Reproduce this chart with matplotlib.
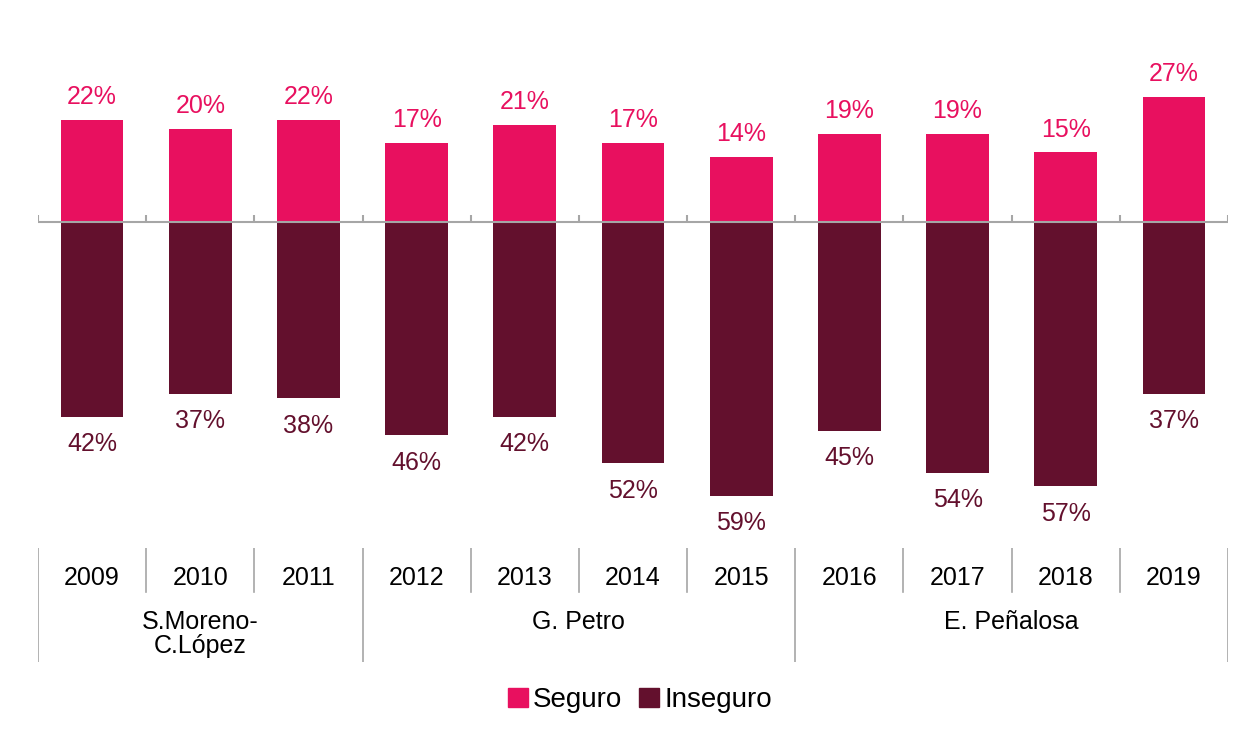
import matplotlib
matplotlib.use('Agg')
import matplotlib.pyplot as plt
from matplotlib.patches import Patch

plt.rcParams['font.family'] = ['Liberation Sans', 'DejaVu Sans']

years = ['2009', '2010', '2011', '2012', '2013', '2014', '2015',
         '2016', '2017', '2018', '2019']
seguro = [22, 20, 22, 17, 21, 17, 14, 19, 19, 15, 27]
inseguro = [42, 37, 38, 46, 42, 52, 59, 45, 54, 57, 37]
groups = ['S.Moreno-\nC.López', 'G. Petro', 'E. Peñalosa']
group_spans = [(0, 2), (3, 6), (7, 10)]

c_seg = '#E8105F'
c_ins = '#63102D'
c_line = '#A6A6A6'

W, H = 1253, 734
fig = plt.figure(figsize=(W / 100, H / 100), dpi=100)

def px_axes(x0, y0, x1, y1):
    # rectangulo en pixeles (origen arriba-izquierda)
    return fig.add_axes([x0 / W, 1 - y1 / H, (x1 - x0) / W, (y1 - y0) / H])

# --- barras ---
ax = px_axes(38, 40, 1228, 540)
pxp = 4.64  # pixeles por punto porcentual
ax.set_xlim(-0.5, len(years) - 0.5)
ax.set_ylim(-(540 - 222) / pxp, (222 - 40) / pxp)
x = list(range(len(years)))
ax.bar(x, seguro, width=0.58, color=c_seg)
ax.bar(x, [-v for v in inseguro], width=0.58, color=c_ins)
for i in x:
    ax.text(i, seguro[i] + 4.9, f'{seguro[i]}%', ha='center', va='center',
            fontsize=18, color=c_seg)
    ax.text(i, -inseguro[i] - 5.9, f'{inseguro[i]}%', ha='center', va='center',
            fontsize=18, color=c_ins)
ax.axhline(0, color=c_line, lw=1.5)
for b in range(len(years) + 1):
    ax.plot([b - 0.5, b - 0.5], [0, 1.6], color=c_line, lw=1.5,
            solid_capstyle='butt')
ax.axis('off')

# --- tabla de categorias ---
tx = px_axes(38, 548, 1228, 662)
tx.set_xlim(-0.5, len(years) - 0.5)
tx.set_ylim(114, 0)
tx.axis('off')
for i, y in enumerate(years):
    tx.text(i, 30, y, ha='center', va='center', fontsize=18)
bounds = [s - 0.5 for s, e in group_spans] + [group_spans[-1][1] + 0.5]
for b in range(len(years) + 1):
    xb = b - 0.5
    top = 114 if xb in bounds else 44
    tx.plot([xb, xb], [0, top], color=c_line, lw=1.2)
for g, (s, e) in zip(groups, group_spans):
    tx.text((s + e) / 2, 62, g, ha='center', va='top', fontsize=18,
            linespacing=1.0)

handles = [Patch(color=c_seg, label='Seguro'), Patch(color=c_ins, label='Inseguro')]
fig.legend(handles=handles, loc='center', bbox_to_anchor=(640 / W, 1 - 700 / H),
           ncol=2, frameon=False, fontsize=20, handlelength=0.7,
           handleheight=0.7, handletextpad=0.2, columnspacing=0.6)

fig.savefig('out.png', dpi=100)
